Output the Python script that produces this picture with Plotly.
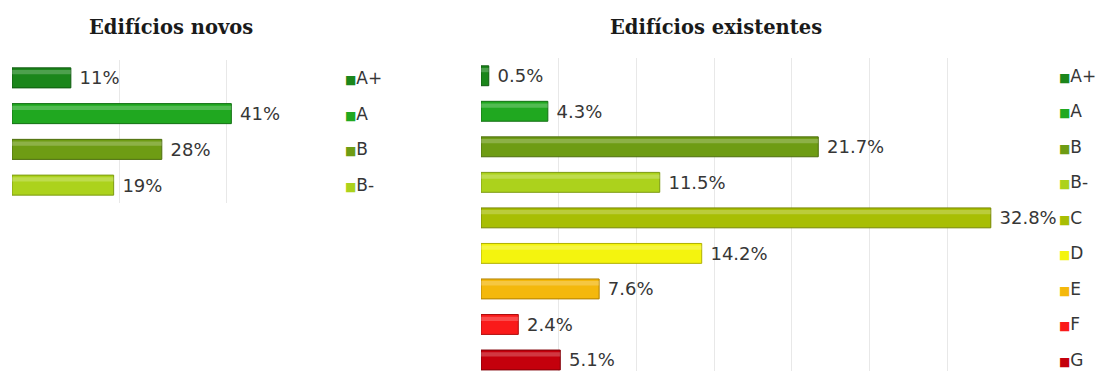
import plotly.graph_objects as go

# ---- data ----
new_classes = ["A+", "A", "B", "B-"]
new_values = [11, 41, 28, 19]

exist_classes = ["A+", "A", "B", "B-", "C", "D", "E", "F", "G"]
exist_values = [0.5, 4.3, 21.7, 11.5, 32.8, 14.2, 7.6, 2.4, 5.1]

class_colors = {
    "A+": "#1b861b", "A": "#20a820", "B": "#6e9c14", "B-": "#acd21c",
    "C": "#a8be04", "D": "#f4f40e", "E": "#f4b80c", "F": "#fa1a1a", "G": "#c4000c",
}
edge_colors = {
    "A+": "#0f5a0f", "A": "#137013", "B": "#4d6e0c", "B-": "#7c9a10",
    "C": "#768600", "D": "#b0b000", "E": "#b08000", "F": "#b00e0e", "G": "#800008",
}

W, H = 1108, 371
def px(x): return x / W
def py(y): return 1 - y / H

LABEL_FONT = dict(family="DejaVu Sans, sans-serif", size=18, color="#363636")

fig = go.Figure()

def add_bars(classes, values, fmt, xa, ya):
    fig.add_trace(go.Bar(
        y=classes, x=values, orientation="h",
        marker=dict(color=[class_colors[c] for c in classes],
                    line=dict(color=[edge_colors[c] for c in classes], width=1)),
        width=0.56,
        texttemplate="\u00a0" + fmt, textposition="outside",
        textfont=LABEL_FONT,
        cliponaxis=False, constraintext="none",
        xaxis=xa, yaxis=ya, showlegend=False, hoverinfo="skip",
    ))
    # glossy highlight strip (same data, narrow overlay)
    fig.add_trace(go.Bar(
        y=classes, x=values, orientation="h",
        marker=dict(color="rgba(255,255,255,0.22)", line=dict(width=0)),
        width=0.12, offset=-0.22,
        xaxis=xa, yaxis=ya, showlegend=False, hoverinfo="skip",
    ))

add_bars(new_classes, new_values, "%{x:.0f}%", "x", "y")
add_bars(exist_classes, exist_values, "%{x:.1f}%", "x2", "y2")

grid = "#e8e8e8"
fig.update_layout(
    width=W, height=H,
    margin=dict(l=0, r=0, t=0, b=0),
    paper_bgcolor="white", plot_bgcolor="white",
    barmode="overlay",
    xaxis=dict(domain=[px(12), px(333)], range=[0, 60], dtick=20,
               showgrid=True, gridcolor=grid, gridwidth=1, zeroline=False,
               showticklabels=False, showline=False),
    yaxis=dict(domain=[py(203), py(60)], categoryorder="array", categoryarray=new_classes,
               range=[3.5, -0.5], showticklabels=False, showgrid=False, zeroline=False,
               showline=False, anchor="x"),
    xaxis2=dict(domain=[px(481), px(1025)], range=[0, 35], dtick=5,
                showgrid=True, gridcolor=grid, gridwidth=1, zeroline=False,
                showticklabels=False, showline=False, anchor="y2"),
    yaxis2=dict(domain=[0, py(58)], categoryorder="array", categoryarray=exist_classes,
                range=[8.31, -0.5], showticklabels=False, showgrid=False, zeroline=False,
                showline=False, anchor="x2"),
)

TITLE_FONT = dict(family="DejaVu Serif, serif", size=19.5, color="#1a1a1a")
annotations = [
    dict(text="<b>Edifícios novos</b>", x=px(171), y=py(28), xref="paper", yref="paper",
         xanchor="center", yanchor="middle", showarrow=False, font=TITLE_FONT),
    dict(text="<b>Edifícios existentes</b>", x=px(716), y=py(28), xref="paper", yref="paper",
         xanchor="center", yanchor="middle", showarrow=False, font=TITLE_FONT),
]

def legend_item(cls, xpix, yref):
    return dict(
        text=f"<span style='color:{class_colors[cls]};font-size:12px'>■</span>{cls}",
        x=px(xpix), y=cls, xref="paper", yref=yref,
        xanchor="left", yanchor="middle", showarrow=False,
        font=dict(family="DejaVu Sans, sans-serif", size=17, color="#363636"),
    )

for c in new_classes:
    annotations.append(legend_item(c, 343, "y"))
for c in exist_classes:
    annotations.append(legend_item(c, 1057, "y2"))

fig.update_layout(annotations=annotations)

fig.write_html("out.html")
